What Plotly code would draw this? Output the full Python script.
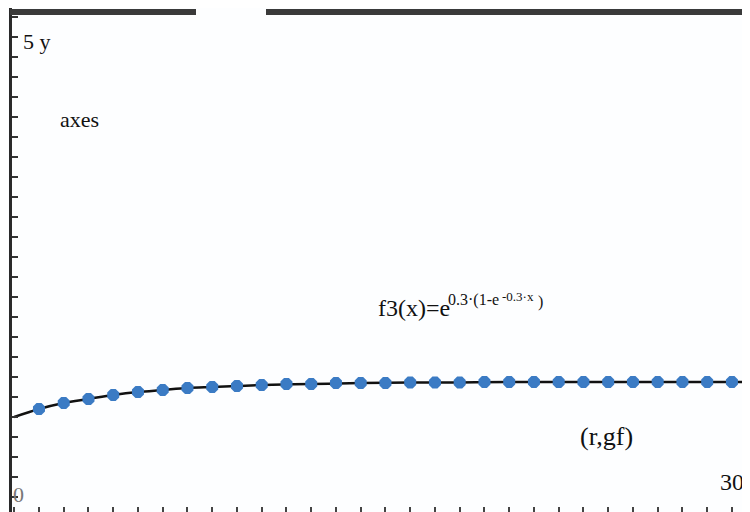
import plotly.graph_objects as go

# Data
point_x = list(range(1, 30))
point_y = [1.08, 1.14, 1.18, 1.22, 1.25, 1.27, 1.29, 1.30, 1.31, 1.32,
           1.33, 1.33, 1.34, 1.34, 1.34, 1.345, 1.345, 1.345, 1.35, 1.35,
           1.35, 1.35, 1.35, 1.35, 1.35, 1.35, 1.35, 1.35, 1.35]
curve_x = [0, 1, 2, 3, 4, 5, 6, 7, 8, 9, 10, 12, 14, 16, 18, 20, 24, 30]
curve_y = [1.00, 1.08, 1.14, 1.18, 1.22, 1.25, 1.27, 1.29, 1.30, 1.31, 1.32,
           1.33, 1.34, 1.345, 1.345, 1.35, 1.35, 1.35]

OFF = 8              # page body offset in the browser
W, H = 750 - OFF, 512 - OFF
L = 4

def px(x):
    return (x - OFF - L) / (W - L)

def py(y):
    return 1 - (y - OFF) / H

fig = go.Figure()
fig.add_trace(go.Scatter(x=curve_x, y=curve_y, mode="lines",
                         line=dict(color="#111111", width=2.5, shape="spline"),
                         hoverinfo="skip"))
fig.add_trace(go.Scatter(x=point_x, y=point_y, mode="markers",
                         marker=dict(symbol="octagon", size=13, color="#3b7bc4",
                                     line=dict(width=0))))

font = "Liberation Serif, Times New Roman, serif"
annots = [
    dict(text="5 y", x=21, y=42, size=22),
    dict(text="axes", x=58, y=119, size=22),
    dict(text="f3(x)=e", x=376, y=308, size=24),
    dict(text="0.3·(1-e", x=446, y=300, size=16),
    dict(text="-0.3·x", x=500, y=296, size=13),
    dict(text=")", x=536, y=302, size=16),
    dict(text="(r,gf)", x=578, y=436, size=26),
    dict(text="30", x=718, y=482, size=24),
    dict(text="0", x=11, y=494, size=22, color="#777777"),
]
for a in annots:
    fig.add_annotation(text=a["text"], x=px(a["x"]), y=py(a["y"]),
                       xref="paper", yref="paper",
                       xanchor="left", yanchor="middle", showarrow=False,
                       font=dict(family=font, size=a["size"], color=a.get("color", "#111111")))

# top dark bar (two segments)
for x0, x1 in [(10, 196), (266, 760)]:
    fig.add_shape(type="line", xref="paper", yref="paper",
                  x0=px(x0), x1=px(x1), y0=py(12), y1=py(12),
                  line=dict(color="#3a3a3a", width=6))

fig.update_layout(
    width=W, height=H,
    margin=dict(l=L, r=0, t=0, b=0),
    paper_bgcolor="#fdfeff", plot_bgcolor="#fdfeff",
    showlegend=False,
    xaxis=dict(range=[-0.09, 29.73], showgrid=False, zeroline=False, showline=False,
               ticks="inside", tick0=0, dtick=1, ticklen=5, tickwidth=1.5,
               tickcolor="#444444", showticklabels=False),
    yaxis=dict(range=[0.05, 5.09], showgrid=False, zeroline=False, showline=True,
               linecolor="#2a2a2a", linewidth=3, mirror=False,
               ticks="inside", tick0=0, dtick=0.2, ticklen=6, tickwidth=2,
               tickcolor="#333333", showticklabels=False),
)

fig.write_html("out.html")
